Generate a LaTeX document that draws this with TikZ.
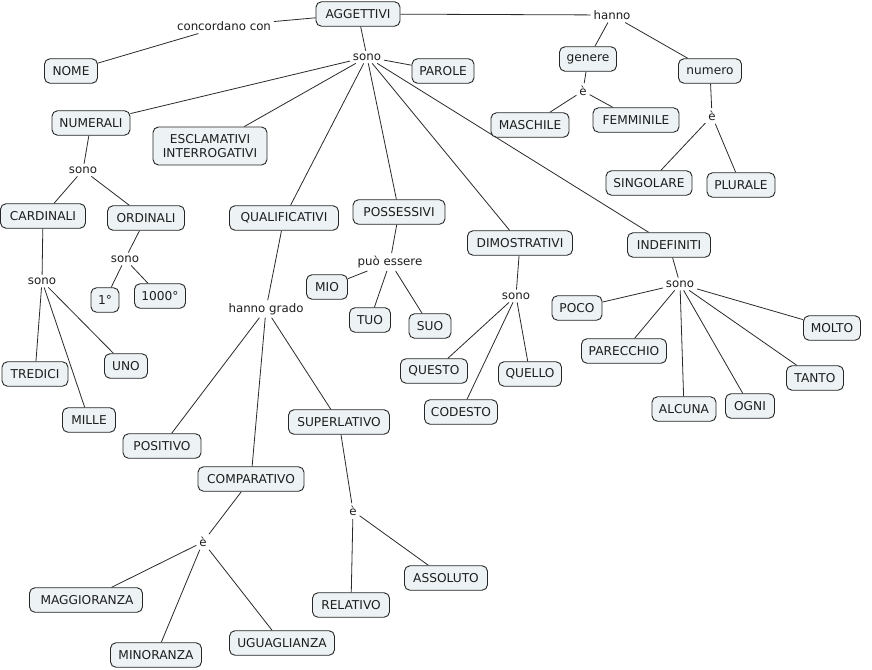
\documentclass[tikz,border=0pt]{standalone}
\usepackage{fontspec}
\setmainfont{DejaVu Sans}
\usetikzlibrary{backgrounds}
\definecolor{boxfill}{HTML}{EDF3F5}
\definecolor{boxline}{HTML}{262626}
\definecolor{txt}{HTML}{1E1E1E}
\definecolor{edgecol}{HTML}{2A2A2A}
\tikzset{
  concept/.style={draw=boxline, fill=boxfill, rounded corners=5.5pt, line width=0.9pt,
    inner xsep=3pt, inner ysep=4pt, minimum height=24.5pt, minimum width=#1, align=center,
    text=txt, font=\fontsize{12.2}{14.2}\selectfont},
  concept/.default=40pt,
  lbl/.style={inner sep=2.8pt, text=txt, font=\fontsize{11.8}{14}\selectfont},
  conn/.style={draw=edgecol, line width=0.8pt}
}
\begin{document}
\begin{tikzpicture}[x=1pt,y=-1pt]
\useasboundingbox (0,0) rectangle (872,669);
% concepts
\node[concept=84pt] (agg) at (358,14) {AGGETTIVI};
\node[concept=53pt] (nome) at (71,71) {NOME};
\node[concept=62pt] (parole) at (443,71) {PAROLE};
\node[concept=78pt] (numerali) at (91,123) {NUMERALI};
\node[concept=114pt, minimum height=38pt] (escl) at (210,146) {ESCLAMATIVI\\INTERROGATIVI};
\node[concept=57pt] (genere) at (588,59) {genere};
\node[concept=63pt] (numero) at (710,71) {numero};
\node[concept=78pt] (masch) at (530,125) {MASCHILE};
\node[concept=86pt] (femm) at (636,120) {FEMMINILE};
\node[concept=86pt] (sing) at (649,183) {SINGOLARE};
\node[concept=68pt] (plur) at (741,185) {PLURALE};
\node[concept=85pt] (card) at (43,216) {CARDINALI};
\node[concept=77pt] (ord) at (146,218) {ORDINALI};
\node[concept=28pt] (primo) at (105,300) {1°};
\node[concept=51pt] (mille1) at (160,296) {1000°};
\node[concept=109pt] (qual) at (284,218) {QUALIFICATIVI};
\node[concept=92pt] (poss) at (399,212) {POSSESSIVI};
\node[concept=41pt] (mio) at (327,287) {MIO};
\node[concept=41pt] (tuo) at (370,320) {TUO};
\node[concept=42pt] (suo) at (430,326) {SUO};
\node[concept=66pt] (tred) at (35,374) {TREDICI};
\node[concept=43pt] (uno) at (126,366) {UNO};
\node[concept=53pt] (mille) at (89,420) {MILLE};
\node[concept=101pt] (sup) at (339,422) {SUPERLATIVO};
\node[concept=105pt] (dim) at (520,243) {DIMOSTRATIVI};
\node[concept=83pt] (indef) at (669,245) {INDEFINITI};
\node[concept=50pt] (poco) at (577,308) {POCO};
\node[concept=57pt] (molto) at (832,328) {MOLTO};
\node[concept=85pt] (parec) at (624,351) {PARECCHIO};
\node[concept=67pt] (questo) at (434,371) {QUESTO};
\node[concept=63pt] (quello) at (530,374) {QUELLO};
\node[concept=57pt] (tanto) at (815,378) {TANTO};
\node[concept=73pt] (codesto) at (461,412) {CODESTO};
\node[concept=64pt] (alcuna) at (684,409) {ALCUNA};
\node[concept=49pt] (ogni) at (750,406) {OGNI};
\node[concept=78pt] (posit) at (162,446) {POSITIVO};
\node[concept=106pt] (comp) at (251,479) {COMPARATIVO};
\node[concept=113pt] (magg) at (86,600) {\,MAGGIORANZA};
\node[concept=83pt] (ass) at (446,578) {ASSOLUTO};
\node[concept=77pt] (rel) at (351,605) {RELATIVO};
\node[concept=105pt] (ugu) at (282,643) {UGUAGLIANZA};
\node[concept=91pt] (min) at (156,655) {MINORANZA};
% linking phrases
\node[lbl] (lconc) at (224,26) {concordano con};
\node[lbl] (lsono) at (367,57) {sono};
\node[lbl] (lhanno) at (612,15) {hanno};
\node[lbl] (lgen) at (583,91) {è};
\node[lbl] (lnum) at (712,116) {è};
\node[lbl] (lnsono) at (83,170) {sono};
\node[lbl] (lcsono) at (42,281) {sono};
\node[lbl] (losono) at (125,259) {sono};
\node[lbl] (lposs) at (390,262) {può essere};
\node[lbl] (lgrado) at (266,309) {hanno grado};
\node[lbl] (ldsono) at (516,296) {sono};
\node[lbl] (lisono) at (680,284) {sono};
\node[lbl] (lcomp) at (203,542) {è};
\node[lbl] (lsup) at (353,511) {è};
% connectors
\begin{pgfonlayer}{background}
\fill[white] (0,0) rectangle (872,669);
\path[conn] (agg) -- (lconc) (lconc) -- (nome);
\path[conn] (agg) -- (lsono);
\path[conn] (lsono) -- (parole) (lsono) -- (numerali) (lsono) -- (escl)
  (lsono) -- (qual) (lsono) -- (poss) (lsono) -- (dim) (lsono) -- (indef);
\path[conn] (agg) -- (lhanno) (lhanno) -- (genere) (lhanno) -- (numero);
\path[conn] (genere) -- (lgen) (lgen) -- (masch) (lgen) -- (femm);
\path[conn] (numero) -- (lnum) (lnum) -- (sing) (lnum) -- (plur);
\path[conn] (numerali) -- (lnsono) (lnsono) -- (card) (lnsono) -- (ord);
\path[conn] (card) -- (lcsono) (lcsono) -- (tred) (lcsono) -- (mille) (lcsono) -- (uno);
\path[conn] (ord) -- (losono) (losono) -- (primo) (losono) -- (mille1);
\path[conn] (qual) -- (lgrado) (lgrado) -- (posit) (lgrado) -- (comp) (lgrado) -- (sup);
\path[conn] (comp) -- (lcomp) (lcomp) -- (magg) (lcomp) -- (min) (lcomp) -- (ugu);
\path[conn] (sup) -- (lsup) (lsup) -- (rel) (lsup) -- (ass);
\path[conn] (poss) -- (lposs) (lposs) -- (mio) (lposs) -- (tuo) (lposs) -- (suo);
\path[conn] (dim) -- (ldsono) (ldsono) -- (questo) (ldsono) -- (codesto) (ldsono) -- (quello);
\path[conn] (indef) -- (lisono) (lisono) -- (poco) (lisono) -- (parec) (lisono) -- (alcuna)
  (lisono) -- (ogni) (lisono) -- (tanto) (lisono) -- (molto);
\end{pgfonlayer}
\end{tikzpicture}
\end{document}
